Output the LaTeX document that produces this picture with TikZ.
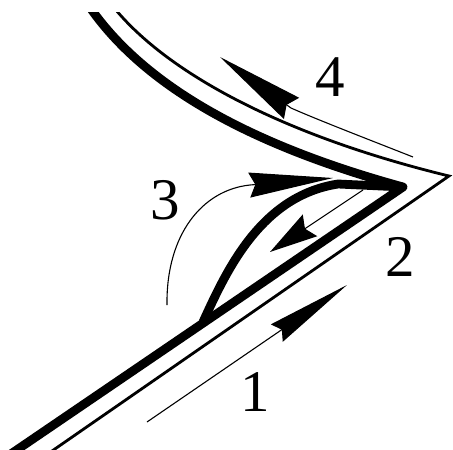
\documentclass[tikz,border=0pt]{standalone}
\usepackage{fontspec}
\setmainfont{Liberation Serif}
\usetikzlibrary{arrows.meta}
\begin{document}
\begin{tikzpicture}[x=1pt,y=-1pt,
  thickln/.style={line width=8.8pt, line join=round},
  outerln/.style={line width=2.8pt, line join=miter},
  shaft/.style={line width=1.1pt},
  lbl/.style={inner sep=0pt, font=\fontsize{59}{59}\selectfont},
]
\useasboundingbox (0,0) rectangle (453,450);
% key points
\coordinate (Tk) at (403,187);   % tip of thick wedge
\coordinate (T)  at (449,176);   % tip of outer thin lines
\coordinate (J)  at (203,322);   % junction of wedge
\coordinate (TopK) at (85,0);
\coordinate (TopT) at (108,0);
\coordinate (BotK) at (2,460);
\coordinate (BotT) at (39,460);
\begin{scope}
\clip (0,12) rectangle (453,450);
% outer thin boundary
\draw[outerln] (TopT) .. controls (160,70) and (280,135) .. (T) -- (BotT);
% thick lines
\draw[thickln] (TopK) .. controls (140,85) and (250,145) .. (Tk) -- (BotK);
\draw[thickln] (J) .. controls (226,272) and (260,196) .. (338,184) -- (Tk);
\end{scope}
% arrows
\coordinate (a1s) at (147,422);
\coordinate (a1e) at (347,285);
\draw[shaft,-{Stealth[length=85pt,width=21pt,inset=6pt]}] (a1s) -- (a1e);
\coordinate (a2s) at (363,190);
\coordinate (a2e) at (270,252);
\draw[shaft,-{Stealth[length=48pt,width=26pt,inset=6pt]}] (a2s) -- (a2e);
\coordinate (a3s) at (167,305);
\coordinate (a3m) at (250,185);
\coordinate (a3e) at (333,178);
\draw[shaft,-{Stealth[length=84pt,width=25pt,inset=6pt]}] (a3s) .. controls (166,235) and (202,190) .. (a3m) -- (a3e);
\coordinate (a4s) at (413,157);
\coordinate (a4m) at (291,108);
\coordinate (a4e) at (220,57);
\draw[shaft,-{Stealth[length=88pt,width=26pt,inset=6pt]}] (a4s) .. controls (370,140) and (318,120) .. (a4m) -- (a4e);
% labels
\node[lbl] (l1) at (255,392) {1};
\node[lbl] (l2) at (400,257) {2};
\node[lbl] (l3) at (165,200) {3};
\node[lbl] (l4) at (330,77) {4};
\end{tikzpicture}
\end{document}
